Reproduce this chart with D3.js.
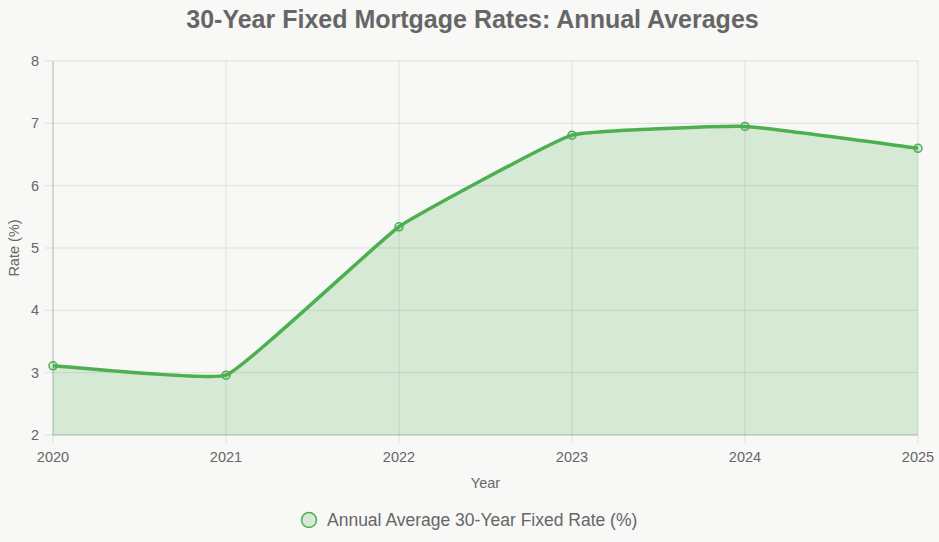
<!DOCTYPE html>
<html lang="en">
<head>
<meta charset="UTF-8">
<title>30-Year Fixed Mortgage Rates</title>
<script src="https://cdn.jsdelivr.net/npm/d3@7"></script>
<style>
  html, body { margin: 0; padding: 0; background: #f8f8f7; }
  svg { display: block; font-family: "Liberation Sans", Arial, Helvetica, sans-serif; }
</style>
</head>
<body>
<svg id="chart"></svg>
<script>
var years = ["2020", "2021", "2022", "2023", "2024", "2025"]
var rates = [3.11, 2.96, 5.34, 6.81, 6.95, 6.60]
var yTicks = [2, 3, 4, 5, 6, 7, 8]

var W = 939, H = 542
var m = { left: 53, right: 21, top: 61, bottom: 107 }
var green = "#4caf50"

var svg = d3.select("#chart").attr("width", W).attr("height", H)

var x = d3.scalePoint().domain(years).range([m.left, W - m.right])
var y = d3.scaleLinear().domain([2, 8]).range([H - m.bottom, m.top])

// grid
svg.append("g").selectAll("line").data(years).enter().append("line")
  .attr("x1", d => x(d)).attr("x2", d => x(d))
  .attr("y1", m.top).attr("y2", H - m.bottom + 8)
  .attr("stroke", "rgba(0,0,0,0.1)")
svg.append("g").selectAll("line").data(yTicks).enter().append("line")
  .attr("x1", m.left - 8).attr("x2", W - m.right)
  .attr("y1", d => y(d)).attr("y2", d => y(d))
  .attr("stroke", "rgba(0,0,0,0.1)")

// axis lines
svg.append("line").attr("x1", m.left).attr("x2", m.left)
  .attr("y1", m.top).attr("y2", H - m.bottom)
  .attr("stroke", "rgba(0,0,0,0.18)")
svg.append("line").attr("x1", m.left).attr("x2", W - m.right)
  .attr("y1", H - m.bottom).attr("y2", H - m.bottom)
  .attr("stroke", "rgba(0,0,0,0.18)")

// chart.js style spline
function spline(pts, t) {
  var cps = pts.map(function(p, i) {
    var prev = pts[i - 1] || p, next = pts[i + 1] || p
    var d01 = Math.hypot(p[0] - prev[0], p[1] - prev[1])
    var d12 = Math.hypot(next[0] - p[0], next[1] - p[1])
    var s01 = d01 / (d01 + d12) || 0, s12 = d12 / (d01 + d12) || 0
    var fa = t * s01, fb = t * s12
    return {
      prev: [p[0] - fa * (next[0] - prev[0]), p[1] - fa * (next[1] - prev[1])],
      next: [p[0] + fb * (next[0] - prev[0]), p[1] + fb * (next[1] - prev[1])]
    }
  })
  var path = d3.path()
  path.moveTo(pts[0][0], pts[0][1])
  for (var i = 1; i < pts.length; i++) {
    var a = cps[i - 1].next, b = cps[i].prev
    path.bezierCurveTo(a[0], a[1], b[0], b[1], pts[i][0], pts[i][1])
  }
  return path.toString()
}

var pts = years.map((d, i) => [x(d), y(rates[i])])
var linePath = spline(pts, 0.1)

svg.append("path")
  .attr("d", linePath + "L" + x(years[years.length - 1]) + "," + y(2) + "L" + x(years[0]) + "," + y(2) + "Z")
  .attr("fill", "rgba(76,175,80,0.2)")

svg.append("path").attr("d", linePath)
  .attr("fill", "none").attr("stroke", green).attr("stroke-width", 3.5)

svg.append("g").selectAll("circle").data(pts).enter().append("circle")
  .attr("cx", d => d[0]).attr("cy", d => d[1]).attr("r", 4)
  .attr("fill", "rgba(76,175,80,0.2)").attr("stroke", green).attr("stroke-width", 1.5)

// tick labels
svg.append("g").selectAll("text").data(years).enter().append("text")
  .attr("x", d => x(d)).attr("y", H - m.bottom + 27)
  .attr("text-anchor", "middle").attr("font-size", 14.5).attr("fill", "#666")
  .text(d => d)
svg.append("g").selectAll("text").data(yTicks).enter().append("text")
  .attr("x", m.left - 14).attr("y", d => y(d) + 5)
  .attr("text-anchor", "end").attr("font-size", 14.5).attr("fill", "#666")
  .text(d => d)

// axis titles
svg.append("text").attr("x", (m.left + W - m.right) / 2).attr("y", 488)
  .attr("text-anchor", "middle").attr("font-size", 14.5).attr("fill", "#666").text("Year")
svg.append("text").attr("transform", "translate(19," + ((m.top + H - m.bottom) / 2) + ") rotate(-90)")
  .attr("text-anchor", "middle").attr("font-size", 14.5).attr("fill", "#666").text("Rate (%)")

// title
svg.append("text").attr("x", W / 2 + 3).attr("y", 28)
  .attr("text-anchor", "middle").attr("font-size", 25).attr("font-weight", "bold")
  .attr("fill", "#666").text("30-Year Fixed Mortgage Rates: Annual Averages")

// legend
var lg = svg.append("g").attr("transform", "translate(309,520)")
lg.append("circle").attr("r", 7.5).attr("fill", "rgba(76,175,80,0.2)")
  .attr("stroke", green).attr("stroke-width", 1.5)
lg.append("text").attr("x", 18).attr("y", 6).attr("font-size", 17.5).attr("fill", "#666")
  .text("Annual Average 30-Year Fixed Rate (%)")
</script>
</body>
</html>
